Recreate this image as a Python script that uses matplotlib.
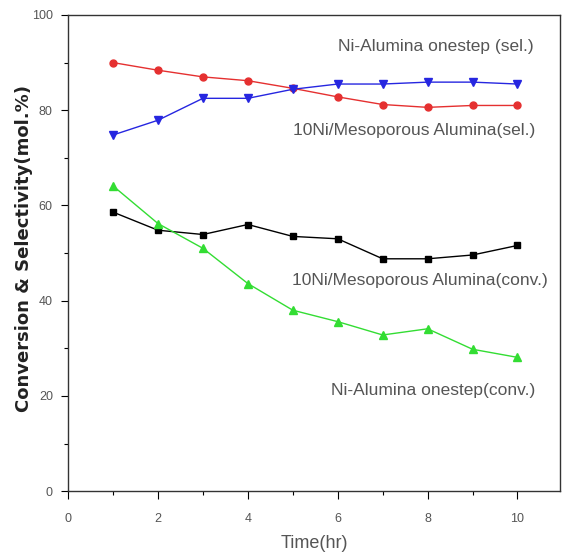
import matplotlib
matplotlib.use("Agg")
import matplotlib.pyplot as plt
from matplotlib.ticker import MultipleLocator

plt.rcParams['font.family'] = ['Liberation Sans', 'DejaVu Sans']

time = [1, 2, 3, 4, 5, 6, 7, 8, 9, 10]
ni_onestep_sel = [74.8, 77.9, 82.5, 82.5, 84.4, 85.5, 85.5, 85.9, 85.9, 85.5]
meso_sel = [90.0, 88.4, 87.0, 86.2, 84.6, 82.8, 81.2, 80.6, 81.0, 81.0]
meso_conv = [58.6, 54.8, 53.9, 56.0, 53.5, 53.0, 48.8, 48.8, 49.6, 51.6]
ni_onestep_conv = [64.1, 56.2, 51.0, 43.6, 38.0, 35.6, 32.8, 34.1, 29.8, 28.1]

labels = ["Ni-Alumina onestep (sel.)", "10Ni/Mesoporous Alumina(sel.)",
          "10Ni/Mesoporous Alumina(conv.)", "Ni-Alumina onestep(conv.)"]
label_x = [10.35, 10.4, 10.68, 10.4]
label_y = [93.3, 75.8, 44.3, 21.2]

gray = '#555555'

fig = plt.figure(figsize=(5.63, 5.55), dpi=100)
ax = fig.add_axes([0.121, 0.115, 0.874, 0.858])

ax.plot(time, meso_sel, color='#e53030', marker='o', markersize=5, lw=1)
ax.plot(time, ni_onestep_sel, color='#2626e0', marker='v', markersize=6, lw=1)
ax.plot(time, meso_conv, color='black', marker='s', markersize=5, lw=1)
ax.plot(time, ni_onestep_conv, color='#33dd33', marker='^', markersize=6, lw=1)

for t, x, y in zip(labels, label_x, label_y):
    ax.text(x, y, t, ha='right', va='center', fontsize=12.5, color=gray)

ax.set_xlim(0, 10.95)
ax.set_ylim(0, 100)
ax.xaxis.set_major_locator(MultipleLocator(2))
ax.xaxis.set_minor_locator(MultipleLocator(1))
ax.yaxis.set_major_locator(MultipleLocator(20))
ax.yaxis.set_minor_locator(MultipleLocator(10))
ax.tick_params(which='both', direction='out', labelsize=9, labelcolor=gray, width=0.8)
ax.tick_params(axis='x', which='major', length=6, pad=10)
ax.tick_params(axis='y', which='major', length=5, pad=6)
ax.tick_params(which='minor', length=3)

ax.set_xlabel('Time(hr)', fontsize=13, color=gray, labelpad=7)
ax.set_ylabel('Conversion & Selectivity(mol.%)', fontsize=13, fontweight='bold',
              family='DejaVu Sans', color='#222222')
ax.yaxis.set_label_coords(-0.072, 0.51)

for s in ax.spines.values():
    s.set_color('#333333')
    s.set_linewidth(1)

plt.savefig('out.png', dpi=100)
